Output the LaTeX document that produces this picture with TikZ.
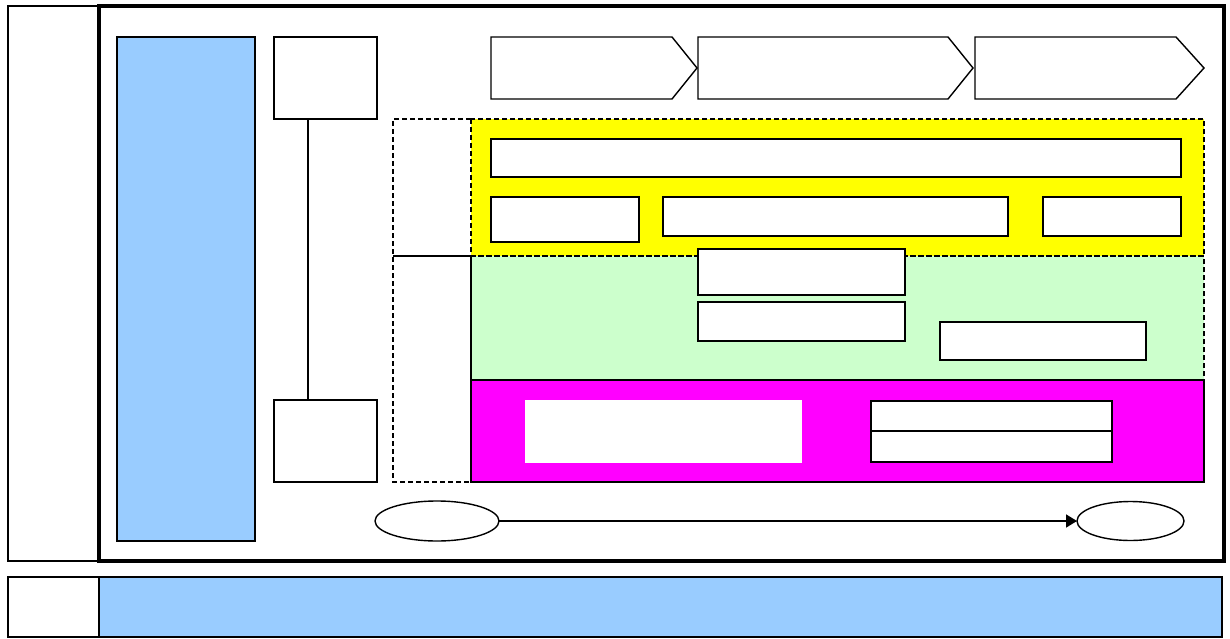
\documentclass[tikz,border=0pt]{standalone}
\usetikzlibrary{arrows.meta,shapes.geometric}
\definecolor{lblue}{HTML}{99CCFF}
\definecolor{lyellow}{HTML}{FFFF00}
\definecolor{lgreen}{HTML}{CCFFCC}
\definecolor{lmag}{HTML}{FF00FF}
\tikzset{
  bx/.style={draw=black,line width=1.4pt,inner sep=0pt,outer sep=0pt,anchor=north west,fill=white},
  dsh/.style={draw=black,line width=1.3pt,dash pattern=on 5pt off 3pt},
  thin/.style={draw=black,line width=1.4pt},
  chev/.style={draw=black,line width=1.4pt,fill=white,line join=miter},
  ell/.style={draw=black,line width=1.4pt,ellipse,inner sep=0pt,outer sep=0pt,fill=white}
}
\begin{document}
\begin{tikzpicture}[x=1pt,y=-1pt]
\useasboundingbox (0,0) rectangle (1230,639);
% outer frames
\draw[thin] (8,6) rectangle (99,561);
\draw[draw=black,line width=3.2pt] (99,6) rectangle (1224,561);
% bottom row
\draw[thin] (8,577) rectangle (99,637);
\draw[thin,fill=lblue] (99,577) rectangle (1222,637);
% blue column
\node[bx,fill=lblue,minimum width=138pt,minimum height=504pt] (col) at (117,37) {};
% small boxes and link
\node[bx,minimum width=103pt,minimum height=82pt] (topbox) at (274,37) {};
\node[bx,minimum width=103pt,minimum height=82pt] (botbox) at (274,400) {};
\coordinate (lk) at (308,0);
\draw[thin] (topbox.south -| lk) -- (botbox.north -| lk);
% chevrons
\draw[chev] (491,37) -- (672,37) -- (697,68) -- (672,99) -- (491,99) -- cycle;
\draw[chev] (698,37) -- (948,37) -- (973,68) -- (948,99) -- (698,99) -- cycle;
\draw[chev] (975,37) -- (1176,37) -- (1204,68) -- (1176,99) -- (975,99) -- cycle;
% coloured bands
\fill[lyellow] (471,119) rectangle (1204,256);
\fill[lgreen] (471,256) rectangle (1204,380);
\draw[thin,fill=lmag] (471,380) rectangle (1204,482);
\draw[dsh] (471,119) rectangle (1204,256);
\draw[dsh] (471,256) -- (1204,256) -- (1204,380) -- (471,380);
\draw[thin] (471,256) -- (471,380);
% dashed left region
\draw[dsh] (471,119) -- (393,119) -- (393,482) -- (471,482);
\draw[thin] (393,256) -- (471,256);
% yellow inner boxes
\node[bx,minimum width=690pt,minimum height=38pt] (y1) at (491,139) {};
\node[bx,minimum width=148pt,minimum height=45pt] (y2) at (491,197) {};
\node[bx,minimum width=345pt,minimum height=39pt] (y3) at (663,197) {};
\node[bx,minimum width=138pt,minimum height=39pt] (y4) at (1043,197) {};
% green inner boxes
\node[bx,minimum width=207pt,minimum height=46pt] (g1) at (698,249) {};
\node[bx,minimum width=207pt,minimum height=39pt] (g2) at (698,302) {};
\node[bx,minimum width=206pt,minimum height=38pt] (g3) at (940,322) {};
% magenta inner boxes
\node[bx,draw=none,minimum width=277pt,minimum height=63pt] (m1) at (525,400) {};
\node[bx,minimum width=241pt,minimum height=30pt] (m2) at (871,401) {};
\node[bx,minimum width=241pt,minimum height=31pt] (m3) at (871,431) {};
% ellipses and arrow
\node[ell,minimum width=124pt,minimum height=40pt] (e1) at (437,521) {};
\node[ell,minimum width=107pt,minimum height=39pt] (e2) at (1130.5,521) {};
\draw[line width=1.6pt,-{Triangle[length=11pt,width=13pt]}] (e1.east) -- (e2.west);
\end{tikzpicture}
\end{document}
